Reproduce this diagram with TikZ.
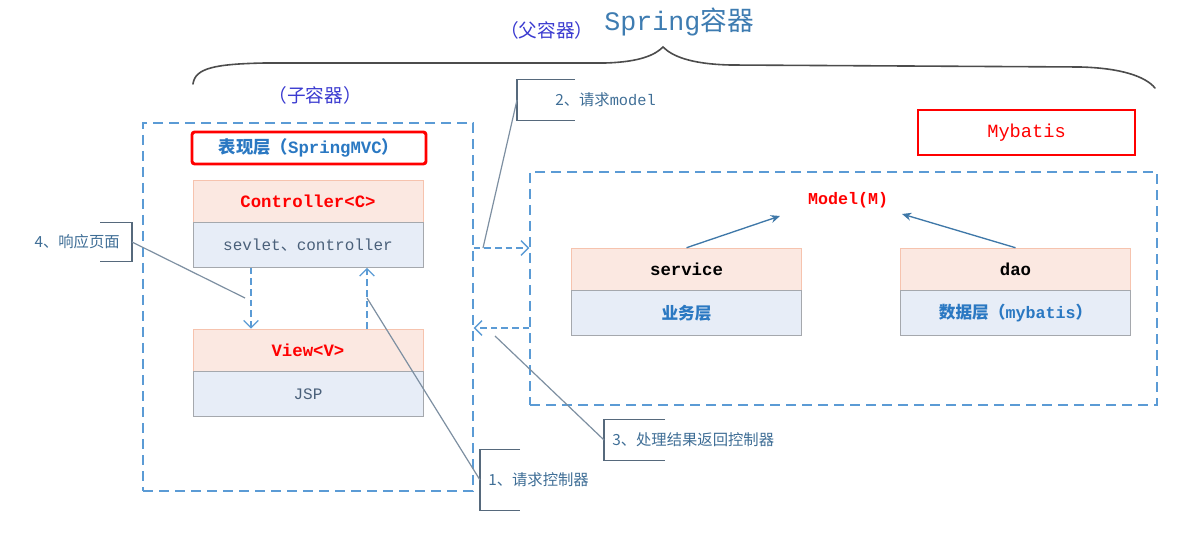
\documentclass[tikz,border=0pt]{standalone}
\usepackage{fontspec}
\setmainfont{Noto Sans CJK SC}
\setmonofont{Liberation Mono}
\usetikzlibrary{arrows.meta,positioning}

\definecolor{boxblue}{HTML}{5B9BD5}
\definecolor{headfill}{HTML}{FBE8E1}
\definecolor{headline}{HTML}{F6C3AE}
\definecolor{bodyfill}{HTML}{E7EDF7}
\definecolor{bodyline}{HTML}{A5A8AD}
\definecolor{calltext}{HTML}{3F6E96}
\definecolor{callline}{HTML}{56697C}
\definecolor{leadline}{HTML}{7D8FA1}
\definecolor{titleblue}{HTML}{3E7CB1}
\definecolor{violet}{HTML}{3B3BD0}
\definecolor{layerblue}{HTML}{2A78C2}
\definecolor{slate}{HTML}{4A607A}
\definecolor{deparrow}{HTML}{3F78A8}

\begin{document}
\begin{tikzpicture}[x=0.75pt,y=-0.75pt,
  container/.style={draw=boxblue,line width=1.1pt,dash pattern=on 7.5pt off 4.5pt},
  head/.style={draw=headline,fill=headfill,minimum width=172.5pt,minimum height=31.5pt,
    inner sep=0pt,font=\fontsize{13}{15}\selectfont\ttfamily\bfseries},
  body/.style={draw=bodyline,fill=bodyfill,minimum width=172.5pt,minimum height=33.75pt,
    inner sep=0pt,font=\fontsize{12}{14}\selectfont},
  flow/.style={draw=boxblue,line width=1.1pt,dash pattern=on 5pt off 3pt,
    -{Straight Barb[length=5.5pt,width=11pt,line width=1pt]}},
  dep/.style={draw=deparrow,line width=1pt,-{Stealth[length=7pt,width=6pt]}},
  callout/.style={inner sep=0pt,minimum height=30pt,text=calltext,
    font=\fontsize{11.5}{13}\selectfont},
  bracket/.style={draw=callline,line width=0.9pt},
  leader/.style={draw=leadline,line width=0.9pt}
]
  \useasboundingbox (0,0) rectangle (1192,534);

  % titles and the brace over the whole spring container
  \node[font=\fontsize{20}{24}\selectfont,text=titleblue] (spring) at (679,22)
    {{\ttfamily Spring}容器};
  \node[font=\fontsize{14}{16}\selectfont,text=violet,left=1pt of spring,yshift=-6pt]
    (parent) {（父容器）};
  \draw[draw=black!70,line width=1.2pt,line cap=round]
    (193,84) .. controls (195,68) and (215,64) .. (265,63) -- (605,63)
    .. controls (640,62) and (655,55) .. (663,47)
    .. controls (672,56) and (690,64) .. (730,65) -- (1080,67)
    .. controls (1120,68) and (1145,76) .. (1155,88);
  \node[font=\fontsize{14}{16}\selectfont,text=violet] (child) at (315,95) {（子容器）};

  % left container: springmvc
  \node[container,minimum width=247.5pt,minimum height=276pt] (mvc) at (308,307) {};
  \node[draw=red,line width=2.2pt,rounded corners=2pt,minimum width=175.5pt,
    minimum height=24pt,text=layerblue,font=\fontsize{13}{15}\selectfont\bfseries]
    (layer) at (309,148) {表现层（{\ttfamily SpringMVC}）};

  \node[head,text=red] (ctrlhead) at (308,201) {Controller<C>};
  \node[body,below=0pt of ctrlhead,text=slate] (ctrlbody)
    {{\ttfamily sevlet}、{\ttfamily controller}};
  \node[head,text=red] (viewhead) at (308,350) {View<V>};
  \node[body,below=0pt of viewhead,text=slate] (viewbody) {{\ttfamily JSP}};

  \draw[flow] ([xshift=-42.75pt]ctrlbody.south) -- ([xshift=-42.75pt]viewhead.north);
  \draw[flow] ([xshift=44.25pt]viewhead.north) -- ([xshift=44.25pt]ctrlbody.south);

  % right container: model
  \node[container,minimum width=470.25pt,minimum height=174.75pt] (biz) at (843.5,288.5) {};
  \node[draw=red,line width=0.8pt,minimum width=162.75pt,minimum height=33.75pt,
    text=red,font=\fontsize{14}{16}\selectfont\ttfamily] (mybatis) at (1026.5,132.5) {Mybatis};
  \node[text=red,font=\fontsize{12.5}{15}\selectfont\ttfamily\bfseries] (model) at (848,200)
    {Model(M)};
  \coordinate (svcin) at (780,216);
  \coordinate (daoin) at (902,214);

  \node[head,text=black] (svchead) at (686.5,269) {service};
  \node[body,below=0pt of svchead,text=layerblue,font=\fontsize{12.5}{14}\selectfont\bfseries]
    (svcbody) {业务层};
  \node[head,text=black] (daohead) at (1015.5,269) {dao};
  \node[body,below=0pt of daohead,text=layerblue,font=\fontsize{12.5}{14}\selectfont\bfseries]
    (daobody) {数据层（{\ttfamily mybatis}）};

  \draw[dep] (svchead.north) -- (svcin);
  \draw[dep] (daohead.north) -- (daoin);

  % requests between the two containers
  \draw[flow] (mvc.east |- 0,248) -- (biz.west |- 0,248);
  \draw[flow] (biz.west |- 0,328) -- (mvc.east |- 0,328);

  % callouts
  \node[callout,anchor=west,text width=100pt,inner xsep=0pt] (c2) at (517,100)
    {\hspace*{28.5pt}2、请求{\ttfamily model}};
  \draw[bracket] ([xshift=43.5pt]c2.north west) -- (c2.north west) -- (c2.south west)
    -- ++(43.5pt,0);
  \draw[leader] (c2.west) -- (483,248);

  \node[callout,anchor=east,minimum height=29.25pt] (c4) at (132,242)
    {4、响应页面\hspace*{9pt}};
  \draw[bracket] ([xshift=-24pt]c4.north east) -- (c4.north east) -- (c4.south east)
    -- ++(-24pt,0);
  \draw[leader] (c4.east) -- (245,298);

  \node[callout,anchor=west] (c3) at (604,440) {\hspace*{6pt}3、处理结果返回控制器};
  \draw[bracket] ([xshift=45.75pt]c3.north west) -- (c3.north west) -- (c3.south west)
    -- ++(45.75pt,0);
  \draw[leader] (c3.west) -- (495,336);

  \node[callout,anchor=west,minimum height=45pt] (c1) at (480,480) {\hspace*{6pt}1、请求控制器};
  \draw[bracket] ([xshift=30pt]c1.north west) -- (c1.north west) -- (c1.south west)
    -- ++(30pt,0);
  \draw[leader] (c1.west) -- (367,298);
\end{tikzpicture}
\end{document}
